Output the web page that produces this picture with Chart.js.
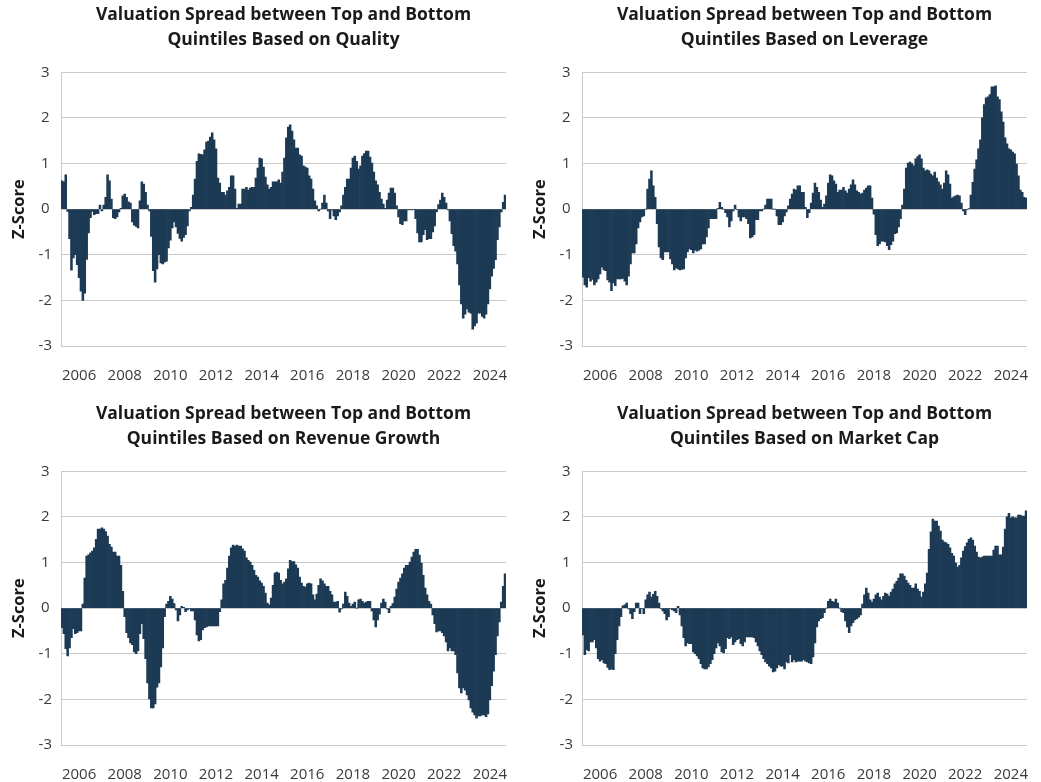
<!DOCTYPE html>
<html>
<head>
<meta charset="utf-8">
<script src="https://cdn.jsdelivr.net/npm/chart.js@4.4.1/dist/chart.umd.min.js"></script>
<style>
  html, body { margin: 0; padding: 0; background: #fff; overflow: hidden; }
  body { width: 1041px; height: 782px; position: relative; }
  canvas { position: absolute; }
</style>
</head>
<body>
<canvas id="chartQuality" width="520" height="392" style="left:0px;top:0px"></canvas>
<canvas id="chartLeverage" width="520" height="392" style="left:521px;top:0px"></canvas>
<canvas id="chartRevenue" width="520" height="392" style="left:0px;top:399px"></canvas>
<canvas id="chartMarketCap" width="520" height="392" style="left:521px;top:399px"></canvas>
<script>
// monthly z-scores, first bar is April 2005, last is September 2024
const firstYear = 2005;
const firstMonth = 4;
const tickYears = [2006, 2008, 2010, 2012, 2014, 2016, 2018, 2020, 2022, 2024];

const quality = [
  0.62, 0.6, 0.75, -0.05, -0.65, -1.34, -1.07, -1.0, -1.22, -1.5,
  -1.8, -2.0, -1.84, -1.1, -0.52, -0.19, -0.05, -0.12, -0.1, -0.1,
  0.09, -0.04, 0.09, 0.26, 0.75, 0.62, 0.22, -0.19, -0.21, -0.17,
  -0.06, 0.02, 0.29, 0.33, 0.26, 0.16, 0.13, -0.28, -0.35, -0.38,
  -0.41, 0.18, 0.6, 0.55, 0.37, 0.09, -0.04, -0.6, -1.35, -1.6,
  -1.31, -1.0, -1.18, -1.2, -1.16, -1.14, -0.85, -0.68, -0.41, -0.28,
  -0.39, -0.53, -0.64, -0.7, -0.62, -0.56, -0.37, -0.04, 0.04, 0.31,
  0.66, 1.05, 1.21, 1.2, 1.19, 1.3, 1.47, 1.49, 1.58, 1.67,
  1.52, 1.32, 0.68, 0.57, 0.37, 0.37, 0.31, 0.4, 0.48, 0.73,
  0.73, 0.44, 0.02, 0.11, 0.11, 0.44, 0.44, 0.48, 0.42, 0.46,
  0.48, 0.48, 0.68, 0.9, 1.12, 1.1, 0.92, 0.7, 0.53, 0.44,
  0.48, 0.6, 0.6, 0.6, 0.64, 0.57, 0.81, 1.12, 1.56, 1.8,
  1.85, 1.71, 1.52, 1.34, 1.34, 1.19, 1.16, 0.95, 0.92, 0.9,
  0.73, 0.66, 0.44, 0.18, 0.07, -0.04, 0.0, 0.13, 0.31, 0.13,
  -0.04, -0.21, -0.02, -0.15, -0.23, -0.15, -0.06, 0.07, 0.31, 0.48,
  0.66, 0.66, 0.9, 1.12, 1.16, 1.05, 0.88, 0.95, 1.16, 1.22,
  1.27, 1.27, 1.14, 1.01, 0.81, 0.62, 0.53, 0.37, 0.22, 0.11,
  0.02, 0.2, 0.35, 0.46, 0.46, 0.35, 0.07, -0.17, -0.32, -0.34,
  -0.26, -0.26, -0.02, -0.01, -0.02, -0.01, -0.21, -0.52, -0.72, -0.72,
  -0.56, -0.45, -0.67, -0.65, -0.65, -0.5, -0.37, -0.06, 0.1, 0.2,
  0.35, 0.26, 0.13, -0.02, -0.26, -0.54, -0.8, -0.92, -1.2, -1.66,
  -2.08, -2.39, -2.3, -2.19, -2.26, -2.28, -2.63, -2.56, -2.5, -2.28,
  -2.28, -2.35, -2.39, -2.3, -2.08, -1.75, -1.47, -1.3, -1.11, -0.67,
  -0.39, -0.06, 0.15, 0.31
];

const leverage = [
  -1.49, -1.66, -1.71, -1.5, -1.58, -1.54, -1.66, -1.6, -1.53, -1.42,
  -1.27, -1.33, -1.35, -1.55, -1.6, -1.79, -1.62, -1.68, -1.53, -1.53,
  -1.53, -1.52, -1.58, -1.66, -1.47, -1.2, -0.96, -0.96, -0.76, -0.41,
  -0.28, -0.17, -0.15, 0.0, 0.44, 0.66, 0.84, 0.51, 0.26, -0.32,
  -0.83, -1.07, -1.11, -0.94, -0.94, -0.94, -1.09, -1.2, -1.33, -1.29,
  -1.31, -1.33, -1.32, -1.31, -1.07, -0.94, -0.87, -0.89, -0.96, -0.9,
  -0.92, -0.9, -0.87, -0.76, -0.76, -0.61, -0.41, -0.21, -0.21, -0.21,
  -0.21, 0.02, 0.15, 0.04, 0.0, -0.08, -0.17, -0.39, -0.26, -0.04,
  0.09, -0.01, -0.17, -0.26, -0.17, -0.17, -0.21, -0.32, -0.63, -0.61,
  -0.56, -0.23, -0.23, -0.04, -0.04, 0.0, 0.09, 0.22, 0.22, 0.22,
  0.0, 0.0, -0.15, -0.34, -0.34, -0.28, -0.15, -0.06, 0.07, 0.22,
  0.33, 0.44, 0.42, 0.51, 0.51, 0.37,
  0.37, 0.04, -0.19, -0.08, 0.13, 0.35, 0.57, 0.48, 0.37, 0.2,
  0.04, 0.11, 0.29, 0.57, 0.75, 0.73, 0.62, 0.55, 0.37, 0.42,
  0.42, 0.48, 0.4, 0.35, 0.44, 0.53, 0.64, 0.53, 0.4, 0.37,
  0.33, 0.35, 0.42, 0.46, 0.51, 0.51, 0.24, -0.11, -0.56, -0.8,
  -0.76, -0.7, -0.7, -0.72, -0.8, -0.89, -0.78, -0.7, -0.54, -0.52,
  -0.39, -0.21, 0.09, 0.44, 0.9, 1.01, 1.03, 1.0, 0.95, 1.1, 1.15, 1.19,
  1.1, 0.9, 0.84, 0.86, 0.84, 0.77, 0.73, 0.81, 0.68, 0.6, 0.53, 0.44, 0.57, 0.84,
  0.75, 0.55, 0.24, 0.27, 0.29, 0.31, 0.29, 0.13, -0.04, -0.12,
  -0.01, 0.01, 0.31, 0.59, 0.88, 1.08, 1.32, 1.52, 2.0, 2.29,
  2.44, 2.46, 2.51, 2.68, 2.68, 2.7,
  2.46, 2.4, 2.13, 1.91, 1.56, 1.43, 1.32, 1.3, 1.25, 1.21,
  0.99, 0.73, 0.42, 0.37, 0.26, 0.24
];

const revenueGrowth = [
  -0.43, -0.56, -0.89, -1.05, -0.87, -0.65, -0.45, -0.56, -0.54, -0.5,
  -0.5, 0.09, 0.66, 1.14, 1.17, 1.21, 1.25, 1.32, 1.51, 1.73,
  1.73, 1.76, 1.73, 1.68, 1.58, 1.4, 1.34, 1.23, 1.23, 1.14,
  1.14, 0.94, 0.37, -0.19, -0.54, -0.65, -0.76, -0.8, -0.96, -1.0,
  -0.94, -0.56, -0.34, -0.67, -1.11, -1.64, -1.99, -2.19, -2.19, -2.1,
  -1.73, -1.64, -1.29, -0.87, -0.19, 0.09, 0.15, 0.26, 0.2, 0.1,
  -0.04, -0.28, -0.15, 0.04, 0.02, -0.08, -0.04, -0.01,
  -0.06, -0.06, -0.26, -0.59, -0.72, -0.69, -0.48, -0.43, -0.41, -0.39,
  -0.39, -0.39, -0.39, -0.39, -0.39, -0.08, 0.18, 0.53, 0.61, 0.88,
  1.14, 1.32, 1.38,
  1.36, 1.38, 1.36, 1.36, 1.3, 1.25, 1.1, 1.05, 1.01, 0.94,
  0.83, 0.72, 0.68, 0.6, 0.55, 0.48, 0.33, 0.11, 0.07,
  0.22, 0.5, 0.77, 0.79, 0.77, 0.61, 0.53, 0.57, 0.64, 0.86,
  1.05, 1.02, 1.02, 0.95, 0.88, 0.68, 0.55, 0.48, 0.46, 0.53,
  0.55, 0.53, 0.29, 0.18, 0.31, 0.5, 0.64, 0.6, 0.53, 0.48,
  0.48, 0.37, 0.29, 0.13, 0.13, 0.15, -0.09, -0.02, 0.09, 0.35,
  0.26, 0.11, 0.04, 0.09, 0.13, 0.0, 0.18, 0.2, 0.15, 0.11,
  0.13, 0.15, 0.15, -0.06, -0.26, -0.41, -0.26, -0.13, 0.11, 0.2,
  0.13, -0.02, -0.1, 0.04, 0.1, 0.24, 0.42, 0.57, 0.66, 0.75,
  0.88, 0.94, 0.94, 1.01, 1.12, 1.23, 1.29, 1.29, 1.16, 0.99,
  0.72, 0.44, 0.29, 0.15, 0.09, -0.15,
  -0.34, -0.52, -0.5, -0.5, -0.54, -0.61, -0.74, -0.94, -0.87, -0.94,
  -0.94, -1.02, -1.42, -1.75, -1.86, -1.75, -1.8, -1.9, -2.01, -2.19,
  -2.28, -2.34, -2.41, -2.36, -2.36, -2.34, -2.34, -2.38, -2.32, -2.01,
  -1.7, -1.38, -1.02, -0.61, -0.3, 0.13, 0.48, 0.75
];

const marketCap = [
  -0.59, -1.02, -0.91, -0.94, -0.74, -0.74, -0.69, -0.87, -1.11, -1.16,
  -1.13, -1.2, -1.22, -1.3, -1.35, -1.33, -1.35, -1.0, -0.69, -0.39,
  -0.19, 0.05, 0.07, 0.11, -0.02, -0.12, -0.23, -0.08, 0.11, 0.11,
  -0.12, -0.01, -0.12, 0.18, 0.29, 0.35, 0.24, 0.3, 0.37, 0.26,
  0.11, -0.01, -0.06, -0.12, -0.26, -0.19, -0.01, -0.04, -0.06, -0.1,
  0.04, -0.15, -0.39, -0.65, -0.83, -0.76, -0.78, -0.78, -0.96, -1.0,
  -1.05, -1.11, -1.22, -1.31, -1.33, -1.33, -1.29, -1.22, -1.13, -1.0,
  -0.87, -0.76, -0.83, -0.96, -0.98, -0.89, -0.65, -0.67, -0.63, -0.8,
  -0.74, -0.69, -0.67, -0.78, -0.83, -0.74, -0.63, -0.63, -0.63, -0.63,
  -0.65, -0.74, -0.83, -0.94, -1.02, -1.11, -1.18, -1.22, -1.27, -1.31,
  -1.4, -1.38, -1.31, -1.24, -1.27, -1.27, -1.33, -1.18, -1.2, -1.02,
  -1.18, -1.13, -1.18, -1.16, -1.16, -1.16,
  -1.13, -1.16, -1.18, -1.2, -1.22, -1.07, -0.76, -0.41, -0.28, -0.23,
  -0.21, -0.1, 0.0, 0.15, 0.2, 0.15, 0.13, 0.2, 0.11, 0.0,
  -0.08, -0.1, -0.28, -0.41, -0.54, -0.39, -0.32,
  -0.26, -0.23, -0.2, -0.15, 0.09, 0.29, 0.44, 0.33, 0.18, 0.13,
  0.2, 0.29, 0.33, 0.24, 0.18, 0.26, 0.33, 0.31, 0.26, 0.35,
  0.42, 0.53, 0.59, 0.66, 0.75, 0.75, 0.7, 0.61, 0.55, 0.5,
  0.44, 0.44, 0.53, 0.42, 0.37, 0.24, 0.35, 0.53, 0.77, 1.29,
  1.67, 1.95, 1.91, 1.91, 1.8, 1.69, 1.49, 1.45, 1.43, 1.4,
  1.32, 1.2, 1.14, 0.99, 0.9, 0.94, 1.1, 1.25, 1.35, 1.43,
  1.51, 1.54, 1.49, 1.36, 1.23, 1.12, 1.1, 1.12, 1.14, 1.14,
  1.14, 1.14, 1.14, 1.27, 1.36, 1.36, 1.17, 1.17, 1.34, 1.73,
  2.0, 2.08, 1.98, 2.0, 1.98, 1.98, 2.04, 2.04, 2.02, 2.02, 2.13
];

const barColor = '#1d3a55';
const gridColor = '#c9c9c9';
const fontFamily = "'Open Sans', 'DejaVu Sans', sans-serif";

// month labels for the category axis
let nCount = Math.max(quality.length, leverage.length, revenueGrowth.length, marketCap.length);
let months = [];
let tickText = [];
for (let i = 0; i < nCount; i++)
{
  let m = firstMonth - 1 + i;
  let y = firstYear + Math.floor(m / 12);
  let mm = (m % 12) + 1;
  months.push(y + '-' + (mm < 10 ? '0' : '') + mm);
  tickText.push((mm == 1 && tickYears.indexOf(y) != -1) ? String(y) : '');
}

function panel(id, title, values)
{
  new Chart(document.getElementById(id),
  {
    type: 'bar',
    data:
    {
      labels: months,
      datasets: [{data: values, backgroundColor: barColor, borderWidth: 0, barPercentage: 1, categoryPercentage: 1}]
    },
    options:
    {
      responsive: false,
      animation: false,
      events: [],
      layout: {padding: {left: 3, right: 14, top: 0, bottom: 0}},
      plugins:
      {
        legend: {display: false},
        tooltip: {enabled: false},
        title:
        {
          display: true,
          fullSize: false,
          text: title,
          color: '#1a1a1a',
          font: {family: fontFamily, size: 17.5, weight: 'bold', lineHeight: 1.45},
          padding: {top: 2, bottom: 19.5}
        }
      },
      scales:
      {
        x:
        {
          // tick marks are hidden with the grid, their length only pushes the year labels down
          grid: {display: false, drawTicks: true, tickLength: 8},
          border: {display: false},
          ticks:
          {
            autoSkip: false,
            maxRotation: 0,
            minRotation: 0,
            padding: 13,
            color: '#3a3a3a',
            font: {family: fontFamily, size: 15},
            callback: (value, index) => tickText[index]
          },
          afterFit: (scale) => { scale.height = 46; }
        },
        y:
        {
          min: -3,
          max: 3,
          ticks: {stepSize: 1, padding: 9, crossAlign: 'center', color: '#3a3a3a', font: {family: fontFamily, size: 15}},
          grid: {color: gridColor, lineWidth: 1, drawTicks: false},
          border: {display: true, color: gridColor, width: 1},
          title:
          {
            display: true,
            text: 'Z-Score',
            color: '#1a1a1a',
            font: {family: fontFamily, size: 16.5, weight: 'bold'},
            padding: {top: 6, bottom: 0}
          },
          afterFit: (scale) => { scale.width = 58; }
        }
      }
    }
  });
}

panel('chartQuality', ['Valuation Spread between Top and Bottom', 'Quintiles Based on Quality'], quality);
panel('chartLeverage', ['Valuation Spread between Top and Bottom', 'Quintiles Based on Leverage'], leverage);
panel('chartRevenue', ['Valuation Spread between Top and Bottom', 'Quintiles Based on Revenue Growth'], revenueGrowth);
panel('chartMarketCap', ['Valuation Spread between Top and Bottom', 'Quintiles Based on Market Cap'], marketCap);
</script>
</body>
</html>
